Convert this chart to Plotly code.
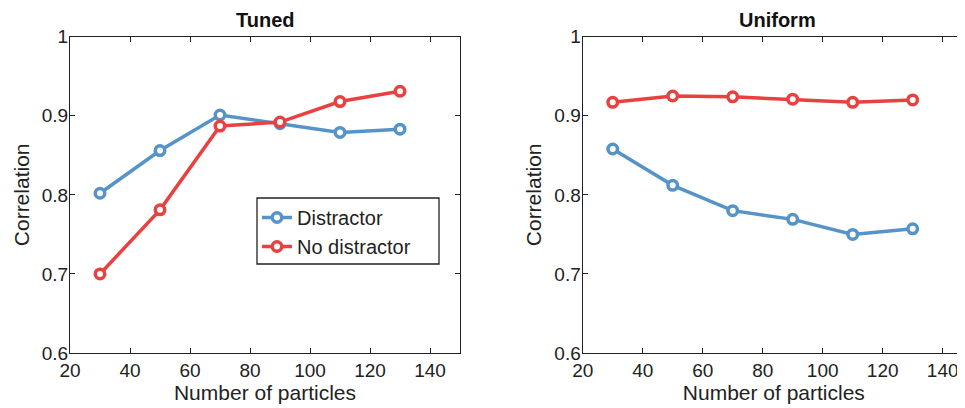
import plotly.graph_objects as go

particles = [30, 50, 70, 90, 110, 130]
tuned_distractor = [0.802, 0.856, 0.901, 0.890, 0.879, 0.883]
tuned_no_distractor = [0.700, 0.781, 0.887, 0.892, 0.918, 0.931]
uniform_distractor = [0.858, 0.812, 0.780, 0.769, 0.750, 0.757]
uniform_no_distractor = [0.917, 0.925, 0.924, 0.921, 0.917, 0.920]
x_ticks = [20, 40, 60, 80, 100, 120, 140]
y_ticks = [0.6, 0.7, 0.8, 0.9, 1.0]
y_tick_labels = ["0.6", "0.7", "0.8", "0.9", "1"]

BLUE = "#5593c8"
RED = "#e8413f"

# page body has an 8px margin: the figure starts at (8, 8) in the window
OFF = 8
W, H = 965 - OFF, 408 - OFF

fig = go.Figure()

def add(x, y, color, name, xa, ya, show):
    fig.add_trace(go.Scatter(
        x=x, y=y, mode="lines+markers", name=name, showlegend=show,
        xaxis=xa, yaxis=ya,
        line=dict(color=color, width=3.5),
        marker=dict(symbol="circle", size=9.5, color="white",
                    line=dict(color=color, width=3.5)),
    ))

add(particles, tuned_distractor, BLUE, "Distractor", "x", "y", True)
add(particles, tuned_no_distractor, RED, "No distractor", "x", "y", True)
add(particles, uniform_no_distractor, RED, "No distractor", "x2", "y2", False)
add(particles, uniform_distractor, BLUE, "Distractor", "x2", "y2", False)

def px(v):
    return (v - OFF) / W

def py(v):
    return 1 - (v - OFF) / H

font_family = "Liberation Sans, Arial, sans-serif"
top_px, bot_px = 36.7, 353
l1, r1 = 70, 460
l2 = 582.7
px_per_unit = 3.0
r2_range = 20 + (965 - l2) / px_per_unit

axis_common = dict(
    showline=True, linecolor="#222", linewidth=1.3,
    ticks="inside", ticklen=5, tickcolor="#222", tickwidth=1,
    showgrid=False, zeroline=False, automargin=False,
    tickfont=dict(size=19, color="#222", family=font_family),
)

fig.update_layout(
    width=W, height=H,
    margin=dict(l=0, r=0, t=0, b=0),
    plot_bgcolor="white", paper_bgcolor="white",
    font=dict(family=font_family, color="#222"),
    xaxis=dict(domain=[px(l1), px(r1)], range=[20, 150], tickvals=x_ticks,
               mirror="ticks", anchor="y",
               title=dict(text="Number of particles", font=dict(size=21), standoff=4),
               **axis_common),
    yaxis=dict(domain=[py(bot_px), py(top_px)], range=[0.6, 1.0],
               tickvals=y_ticks, ticktext=y_tick_labels, mirror="ticks", anchor="x",
               ticklabelstandoff=-3,
               title=dict(text="Correlation", font=dict(size=21), standoff=6),
               **axis_common),
    xaxis2=dict(domain=[px(l2), 1], range=[20, r2_range], tickvals=x_ticks,
                mirror="ticks", anchor="y2",
                title=dict(text="Number of particles", font=dict(size=21), standoff=4),
                **axis_common),
    yaxis2=dict(domain=[py(bot_px), py(top_px)], range=[0.6, 1.0],
                tickvals=y_ticks, ticktext=y_tick_labels, mirror=False, anchor="x2",
                ticklabelstandoff=-3,
                title=dict(text="Correlation", font=dict(size=21), standoff=6),
                **axis_common),
    legend=dict(x=px(257), y=py(198), xanchor="left", yanchor="top",
                borderwidth=0, bgcolor="rgba(0,0,0,0)",
                font=dict(size=20, color="#222"), itemwidth=30),
    shapes=[
        dict(type="rect", xref="paper", yref="paper",
             x0=px(257), x1=px(439), y0=py(264), y1=py(198),
             line=dict(color="#222", width=1.3), fillcolor="white", layer="above"),
    ],
    annotations=[
        dict(text="<b>Tuned</b>", x=px((l1 + r1) / 2), y=py(20), xref="paper", yref="paper",
             xanchor="center", yanchor="middle",
             showarrow=False, font=dict(size=20, color="#111")),
        dict(text="<b>Uniform</b>", x=px(l2 + 65 * px_per_unit), y=py(20),
             xref="paper", yref="paper", xanchor="center", yanchor="middle",
             showarrow=False, font=dict(size=20, color="#111")),
    ],
)

fig.write_html("out.html")
